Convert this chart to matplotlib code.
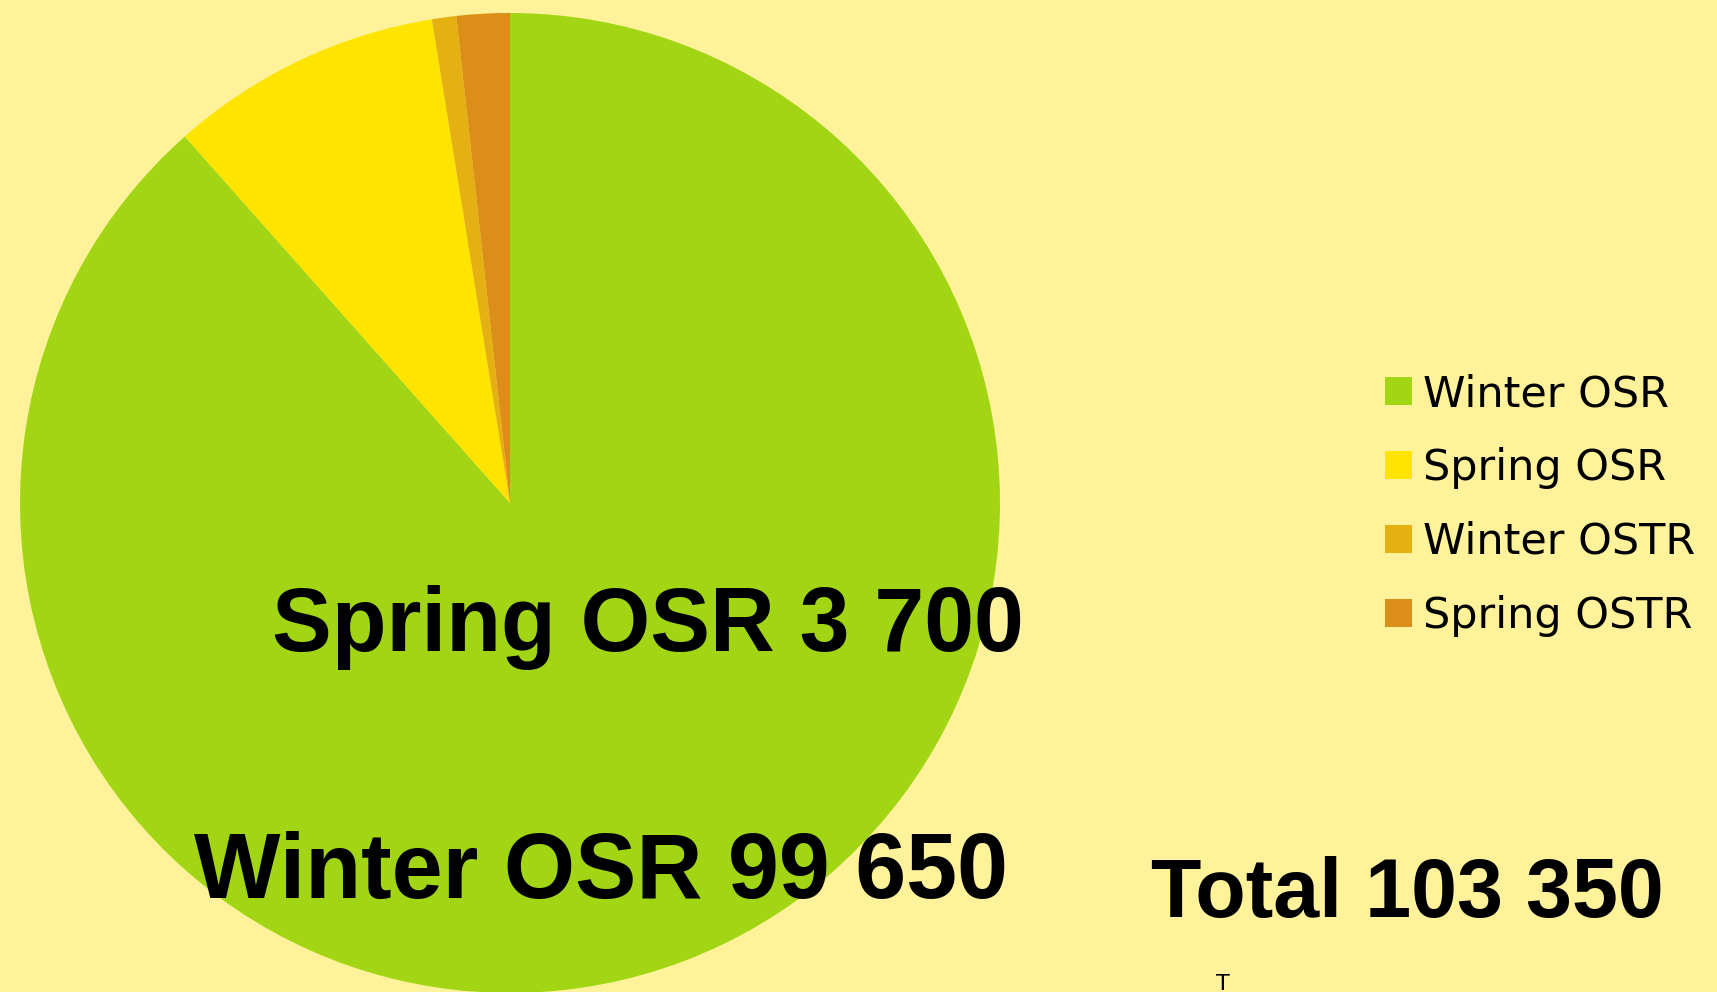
import matplotlib.pyplot as plt

# pie shares as drawn (angles)
crops = ['Winter OSR', 'Spring OSR', 'Winter OSTR', 'Spring OSTR']
shares = [88.45, 9.0, 0.8, 1.75]
colors = ['#A2D614', '#FFE400', '#E4B012', '#DC8F18']

# annotation texts
spring_label = 'Spring OSR 3 700'
winter_label = 'Winter OSR 99 650'
total_label = 'Total 103 350'

W, H = 1717, 992
bg = '#FFF29A'

fig = plt.figure(figsize=(W / 100, H / 100), dpi=100, facecolor=bg)

# pie centre (510, 503) px, radius 490 px
cx, cy, r = 510, 503, 490
ax = fig.add_axes([(cx - r) / W, (H - cy - r) / H, 2 * r / W, 2 * r / H])
ax.set_facecolor(bg)
wedges, _ = ax.pie(shares, colors=colors, startangle=90, counterclock=False,
                   radius=1, wedgeprops=dict(linewidth=0))
ax.set_xlim(-1, 1)
ax.set_ylim(-1, 1)
ax.set_aspect('equal')
ax.axis('off')

big = dict(family=['Liberation Sans', 'DejaVu Sans'], weight='bold',
           color='black', va='baseline', ha='center')
fig.text(648 / W, 1 - 651 / H, spring_label, fontsize=64.5, **big)
fig.text(601 / W, 1 - 898 / H, winter_label, fontsize=66, **big)
fig.text(1407 / W, 1 - 917 / H, total_label, fontsize=59.5, **big)

# small cut-off text at the bottom edge
fig.text(1223 / W, 1 - 974 / H, 'T', fontsize=16, ha='center', va='top')

leg = fig.legend(wedges, crops, loc='center left',
                 bbox_to_anchor=(1385 / W, 1 - 505 / H),
                 frameon=False, fontsize=31, borderpad=0, borderaxespad=0,
                 handlelength=0.63, handleheight=0.63, handletextpad=0.26,
                 labelspacing=0.74)

fig.savefig('out.png', dpi=100, facecolor=bg)
